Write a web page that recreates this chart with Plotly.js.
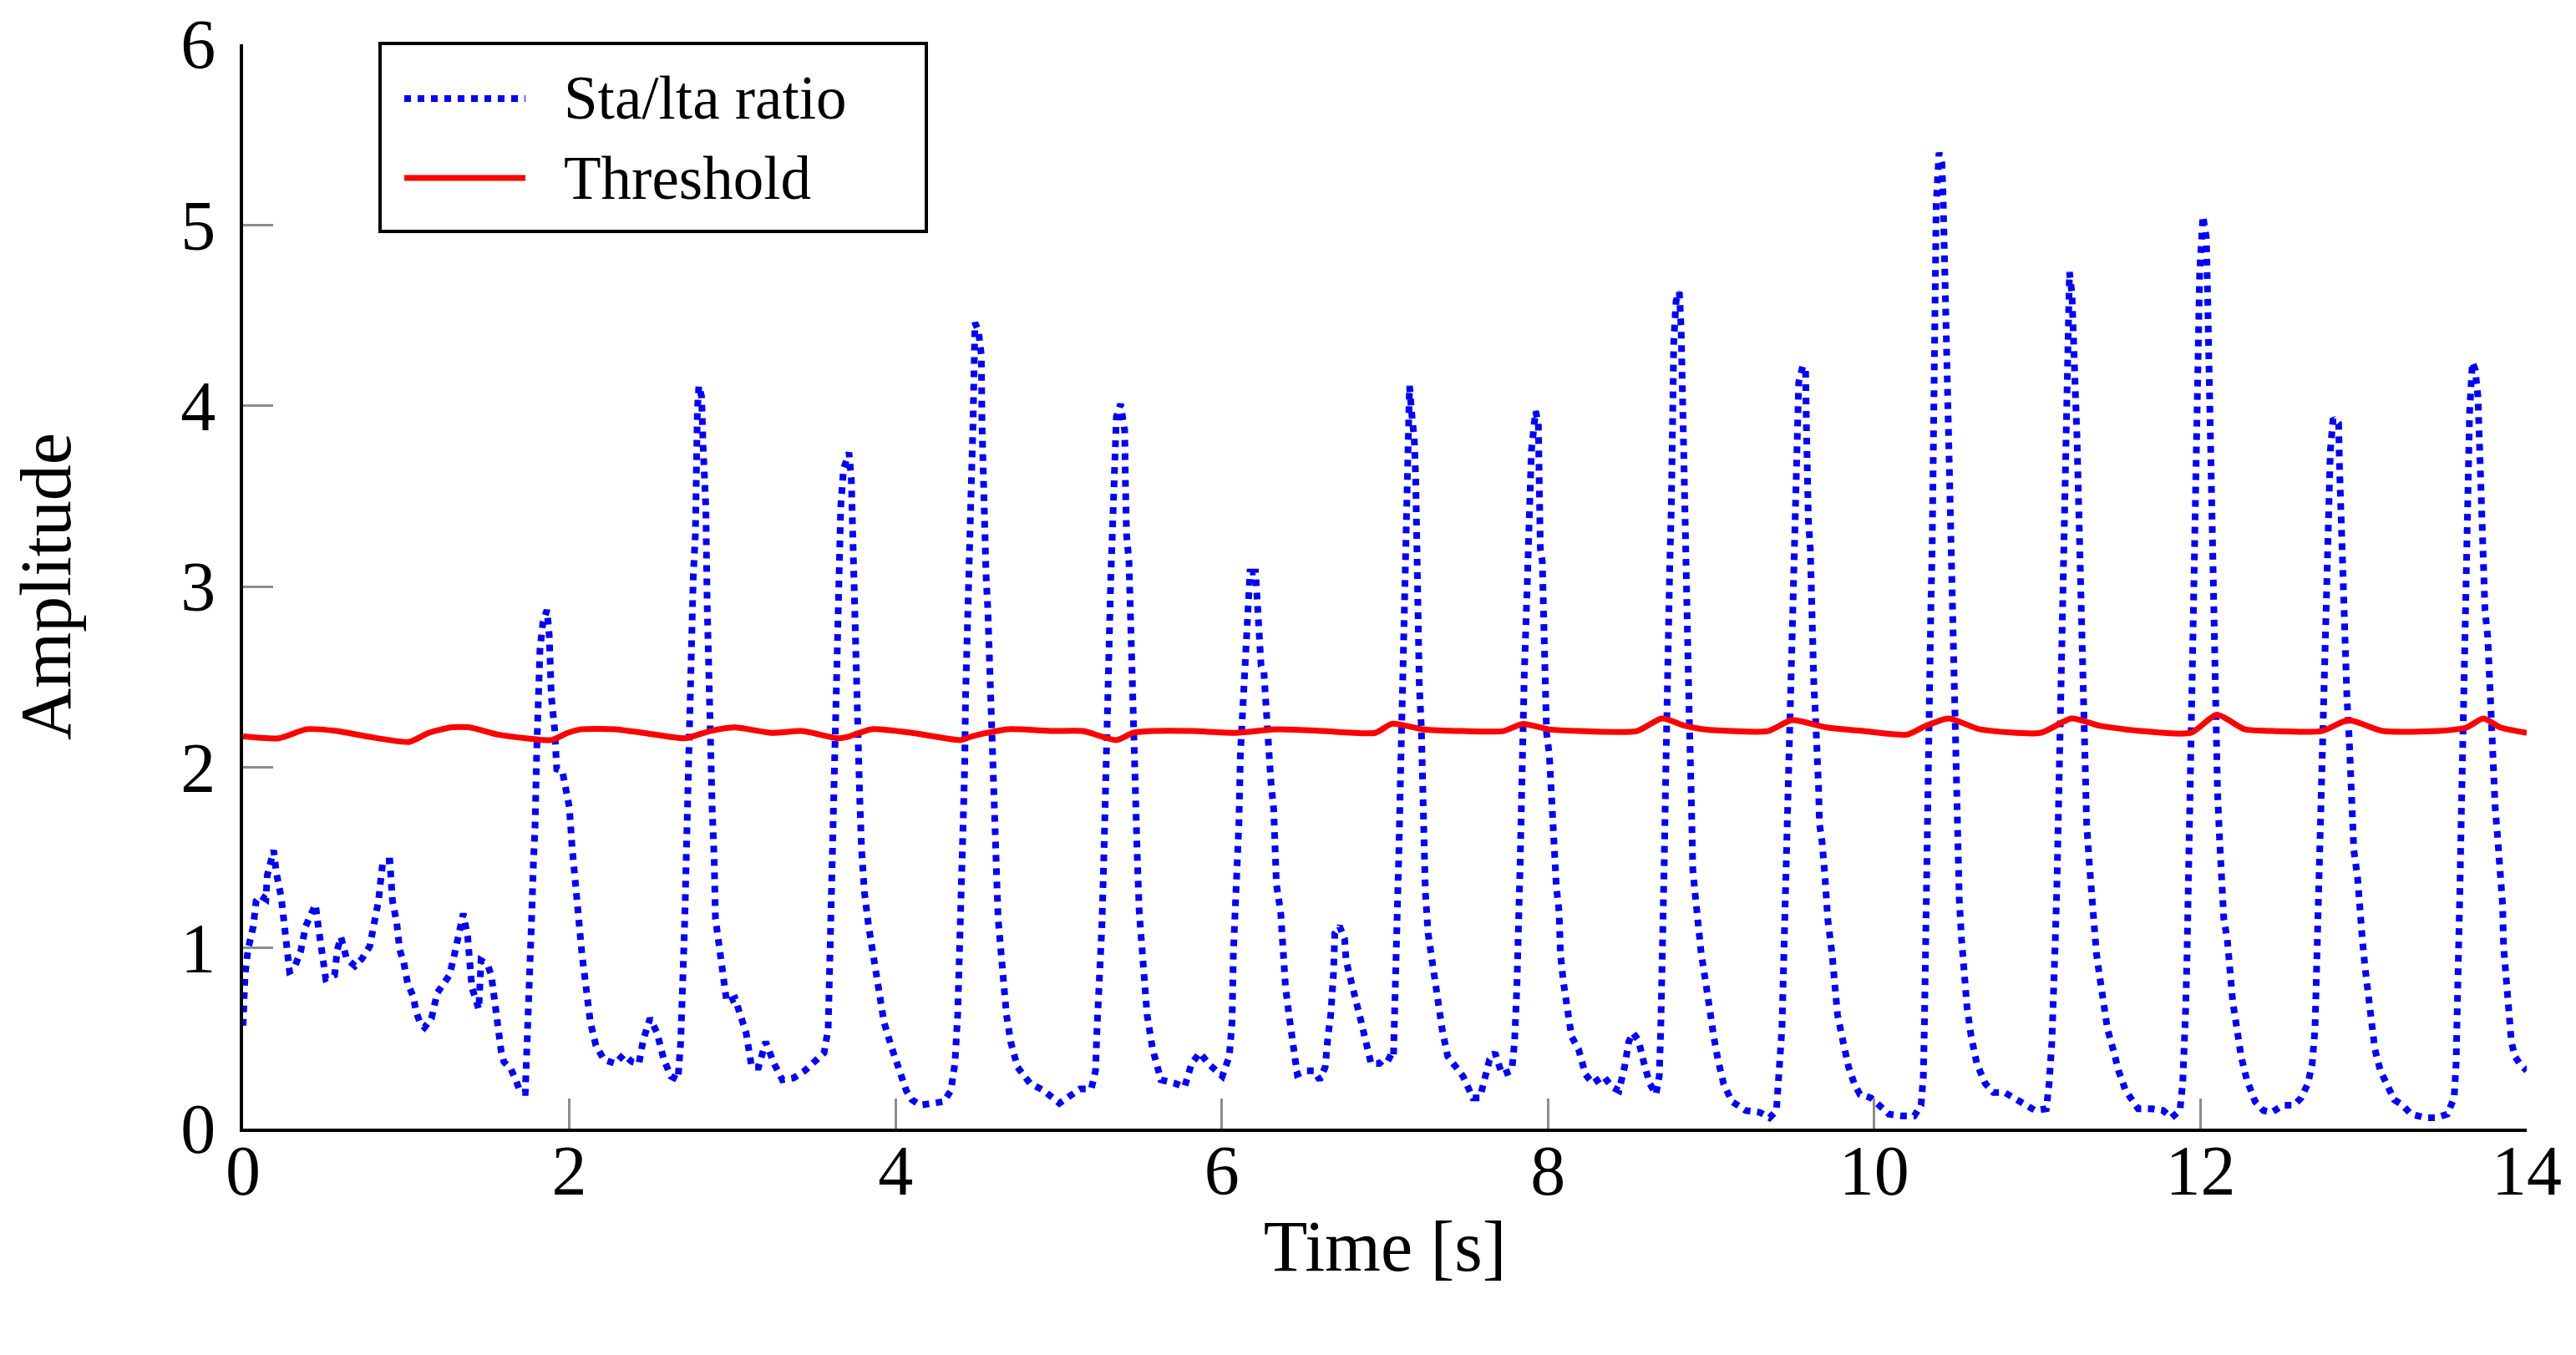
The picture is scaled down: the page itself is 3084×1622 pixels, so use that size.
<!DOCTYPE html>
<html>
<head>
<meta charset="utf-8">
<script src="https://cdn.plot.ly/plotly-3.0.1.min.js"></script>
<style>html,body{margin:0;padding:0;background:#fff;}#chart{width:3084px;height:1622px;}</style>
</head>
<body>
<div id="chart"></div>
<script>
// ---- Data ----
const staTime = [
0.00,0.012,0.03,0.063,0.08,0.105,0.14,0.148,0.188,0.203,0.234,0.25,0.268,0.285,0.31,0.353,0.384,0.413,0.444,0.464,0.486,0.507,0.561,0.578,0.60,0.635,0.686,0.729,0.777,0.805,0.83,0.857,0.90,0.916,0.942,0.96,0.985,1.01,1.044,1.06,1.087,1.112,1.155,1.19,1.232,1.266,1.30,1.317,1.35,1.377,1.394,1.403,1.428,1.445,1.459,1.497,1.522,1.539,1.556,1.582,1.599,1.642,1.676,1.70,1.73,1.74,1.75,1.76,1.77,1.78,1.79,1.80,1.81,1.82,1.838,1.863,1.877,1.88,1.89,1.91,1.923,1.957,1.975,2.0,2.017,2.034,2.06,2.077,
2.103,2.129,2.163,2.214,2.282,2.333,2.384,2.427,2.453,2.495,2.538,2.58,2.623,2.666,2.683,2.70,2.708,2.717,2.725,2.734,2.743,2.751,2.76,2.773,2.777,2.785,2.794,2.811,2.82,2.837,2.845,2.857,2.862,2.876,2.888,2.896,2.913,2.939,2.965,3.016,3.05,3.084,3.118,3.16,3.204,3.255,3.306,3.375,3.443,3.51,3.562,3.587,3.596,3.604,3.613,3.621,3.63,3.638,3.647,3.655,3.664,3.681,3.715,3.729,3.736,3.746,3.758,3.77,3.78,3.792,3.809,3.835,3.869,3.903,3.929,3.972,
4.015,4.066,4.10,4.151,4.228,4.296,4.339,4.364,4.381,4.39,4.398,4.415,4.424,4.429,4.436,4.442,4.458,4.463,4.475,4.48,4.487,4.509,4.526,4.53,4.538,4.543,4.555,4.566,4.572,4.577,4.586,4.594,4.608,4.62,4.629,4.646,4.663,4.68,4.706,4.748,4.825,4.91,5.004,5.064,5.132,5.20,5.226,5.235,5.252,5.265,5.277,5.286,5.294,5.303,5.311,5.32,5.329,5.337,5.346,5.354,5.38,5.405,5.409,5.416,5.431,5.44,5.448,5.452,5.462,5.474,5.482,5.494,5.508,5.525,5.542,5.576,5.627,5.713,5.772,5.815,5.866,5.917,
6.003,6.046,6.063,6.071,6.088,6.105,6.114,6.122,6.139,6.153,6.161,6.173,6.207,6.216,6.228,6.241,6.258,6.267,6.275,6.284,6.301,6.318,6.323,6.335,6.361,6.374,6.391,6.412,6.438,6.463,6.515,6.566,6.60,6.634,6.651,6.668,6.685,6.693,6.722,6.753,6.762,6.796,6.83,6.855,6.881,6.915,6.967,7.009,7.052,7.061,7.069,7.078,7.086,7.095,7.103,7.112,7.12,7.129,7.137,7.146,7.151,7.163,7.18,7.189,7.194,7.20,7.211,7.223,7.231,7.24,7.248,7.265,7.282,7.299,7.333,7.351,7.385,7.436,7.479,7.539,7.582,7.616,7.641,7.675,7.718,7.778,7.795,7.809,7.821,7.829,7.838,7.843,7.855,7.872,7.881,7.898,7.924,7.941,7.946,7.953,7.965,7.974,7.982,7.991,
8.008,8.017,8.025,8.034,8.051,8.068,8.076,8.093,8.119,8.144,8.187,8.23,8.273,8.341,8.392,8.435,8.469,8.495,8.52,8.554,8.589,8.623,8.662,8.682,8.691,8.699,8.708,8.713,8.721,8.725,8.734,8.742,8.747,8.756,8.759,8.764,8.771,8.785,8.805,8.816,8.822,8.827,8.833,8.845,8.853,8.862,8.867,8.876,8.883,8.888,8.905,8.922,8.939,8.965,8.987,9.016,9.042,9.076,9.127,9.213,9.298,9.358,9.40,9.417,9.434,9.443,9.451,9.46,9.468,9.477,9.485,9.494,9.503,9.511,9.52,9.528,9.537,9.562,9.579,9.584,9.588,9.596,9.608,9.613,9.622,9.63,9.639,9.653,9.659,9.664,9.681,9.698,9.715,9.741,9.758,9.775,9.809,9.843,9.877,9.912,9.98,
10.03,10.09,10.17,10.245,10.287,10.301,10.307,10.312,10.32,10.329,10.334,10.341,10.346,10.355,10.36,10.363,10.368,10.375,10.38,10.397,10.415,10.423,10.432,10.44,10.449,10.457,10.466,10.475,10.483,10.492,10.50,10.509,10.521,10.535,10.552,10.569,10.594,10.629,10.68,10.731,10.799,10.859,10.919,10.987,11.055,11.072,11.089,11.103,11.11,11.12,11.127,11.137,11.144,11.154,11.161,11.17,11.178,11.185,11.197,11.212,11.226,11.234,11.243,11.251,11.256,11.265,11.277,11.285,11.294,11.302,11.319,11.333,11.345,11.362,11.379,11.405,11.43,11.464,11.498,11.541,11.618,11.703,11.771,11.822,11.874,11.891,11.90,11.908,11.917,11.925,11.934,11.942,11.951,11.96,11.968,11.975,11.985,11.995,
12.015,12.036,12.045,12.053,12.062,12.07,12.079,12.087,12.096,12.104,12.116,12.126,12.143,12.164,12.181,12.198,12.224,12.249,12.284,12.335,12.386,12.437,12.506,12.574,12.617,12.659,12.685,12.702,12.71,12.719,12.727,12.736,12.744,12.753,12.761,12.77,12.779,12.787,12.796,12.813,12.847,12.852,12.86,12.872,12.881,12.889,12.898,12.912,12.923,12.932,12.94,12.963,12.98,12.992,13.009,13.026,13.048,13.069,13.103,13.146,13.188,13.239,13.291,13.376,13.444,13.513,13.555,13.567,13.576,13.581,13.59,13.598,13.607,13.615,13.624,13.632,13.641,13.65,13.667,13.684,13.701,13.71,13.718,13.727,13.735,13.744,13.761,13.769,13.786,13.80,13.807,13.821,13.838,13.852,13.858,13.872,13.889,13.906,13.927,13.957,14.0
];
const staRatio = [
0.57,0.85,0.99,1.12,1.26,1.29,1.27,1.40,1.54,1.42,1.28,1.14,0.99,0.87,0.88,0.98,1.12,1.19,1.24,1.10,0.97,0.83,0.85,0.99,1.06,0.94,0.90,0.94,1.01,1.14,1.26,1.48,1.48,1.26,1.14,0.99,0.92,0.80,0.73,0.65,0.58,0.56,0.61,0.75,0.80,0.85,0.98,1.06,1.19,1.06,0.92,0.78,0.71,0.66,0.93,0.91,0.85,0.71,0.57,0.43,0.37,0.33,0.26,0.20,0.20,0.40,0.62,0.91,1.19,1.47,1.67,2.08,2.37,2.65,2.80,2.87,2.73,2.44,2.39,2.21,1.99,1.98,1.91,1.78,1.56,1.37,1.15,0.97,
0.78,0.59,0.46,0.38,0.36,0.41,0.37,0.36,0.49,0.61,0.53,0.38,0.29,0.27,0.48,0.82,1.16,1.50,1.88,2.23,2.53,2.83,3.06,3.29,3.67,3.97,4.11,4.05,3.78,3.44,2.91,2.45,2.07,1.77,1.50,1.16,1.05,0.86,0.70,0.72,0.63,0.53,0.34,0.34,0.48,0.36,0.27,0.28,0.32,0.38,0.42,0.55,0.89,1.31,1.69,2.07,2.45,2.76,2.99,3.21,3.44,3.65,3.74,3.59,3.29,2.99,2.61,2.23,1.84,1.54,1.31,1.12,0.93,0.76,0.59,0.46,
0.34,0.21,0.16,0.13,0.14,0.15,0.21,0.36,0.63,0.93,1.24,1.54,2.00,2.38,2.68,2.91,3.21,3.52,3.90,4.28,4.46,4.41,4.28,3.90,3.52,3.21,3.06,2.87,2.68,2.45,2.23,1.92,1.69,1.39,1.16,0.97,0.82,0.63,0.48,0.34,0.25,0.21,0.14,0.18,0.22,0.22,0.32,0.55,0.82,1.12,1.50,1.88,2.26,2.53,2.83,3.06,3.29,3.52,3.75,3.94,4.01,3.86,3.59,3.29,3.14,2.83,2.53,2.23,2.00,1.77,1.50,1.20,1.05,0.82,0.63,0.44,0.27,0.25,0.23,0.36,0.42,0.36,
0.29,0.40,0.59,0.97,1.31,1.69,2.07,2.23,2.45,2.68,2.91,3.08,3.08,2.91,2.72,2.56,2.53,2.38,2.23,2.07,1.92,1.77,1.54,1.35,1.20,0.97,0.78,0.63,0.44,0.30,0.32,0.32,0.27,0.34,0.51,0.63,0.86,1.08,1.12,1.05,0.93,0.82,0.68,0.59,0.48,0.36,0.36,0.40,0.38,0.63,0.93,1.20,1.54,1.92,2.26,2.61,2.91,3.29,3.59,3.97,4.11,3.97,3.82,3.59,3.21,2.83,2.45,2.23,1.92,1.62,1.31,1.08,0.97,0.86,0.70,0.55,0.40,0.34,0.29,0.17,0.17,0.29,0.38,0.42,0.30,0.32,0.48,0.78,1.08,1.46,1.84,2.15,2.53,2.99,3.40,3.75,3.97,3.90,3.59,3.21,3.14,2.83,2.45,2.19,
2.07,1.88,1.69,1.50,1.34,1.20,0.97,0.82,0.67,0.51,0.44,0.30,0.25,0.29,0.23,0.21,0.34,0.48,0.53,0.49,0.36,0.25,0.19,0.29,0.55,0.82,1.16,1.50,1.92,2.23,2.53,2.83,3.14,3.44,3.75,4.05,4.36,4.58,4.63,4.43,4.13,3.82,3.59,3.21,2.83,2.53,2.23,1.92,1.69,1.43,1.27,1.08,0.97,0.82,0.67,0.51,0.38,0.25,0.15,0.10,0.09,0.06,0.10,0.29,0.55,0.86,1.16,1.46,1.77,2.07,2.34,2.61,2.91,3.21,3.52,3.82,4.13,4.22,4.20,3.90,3.59,3.37,3.21,2.99,2.68,2.45,2.30,2.07,1.88,1.69,1.58,1.39,1.16,0.97,0.78,0.63,0.48,0.34,0.25,0.19,0.17,
0.13,0.08,0.07,0.07,0.13,0.29,0.55,0.93,1.31,1.69,2.07,2.45,2.83,3.21,3.59,3.97,4.36,4.74,5.12,5.40,5.34,5.12,4.74,4.36,3.97,3.59,3.21,2.83,2.45,2.07,1.77,1.54,1.27,1.05,0.86,0.67,0.51,0.36,0.25,0.20,0.20,0.17,0.13,0.10,0.11,0.25,0.48,0.74,1.05,1.35,1.69,2.07,2.45,2.83,3.21,3.59,3.97,4.36,4.74,4.62,4.36,4.05,3.82,3.52,3.21,2.83,2.45,2.07,1.88,1.69,1.46,1.27,1.12,0.97,0.86,0.70,0.55,0.44,0.32,0.21,0.11,0.11,0.10,0.06,0.10,0.25,0.40,0.63,0.93,1.31,1.69,2.07,2.45,2.83,3.40,3.80,4.20,4.74,
5.05,4.93,4.55,4.16,3.78,3.40,3.02,2.64,2.26,1.88,1.62,1.39,1.16,1.05,0.86,0.70,0.55,0.40,0.27,0.15,0.10,0.09,0.13,0.13,0.17,0.25,0.36,0.55,0.82,1.12,1.43,1.77,2.07,2.45,2.76,3.06,3.29,3.52,3.75,3.93,3.90,3.67,3.40,3.25,2.99,2.68,2.38,2.15,1.96,1.77,1.54,1.39,1.24,1.05,0.89,0.74,0.59,0.44,0.32,0.23,0.16,0.13,0.08,0.06,0.06,0.08,0.17,0.36,0.63,0.93,1.31,1.69,2.07,2.45,2.83,3.21,3.59,3.97,4.24,4.20,4.05,3.82,3.59,3.37,3.14,2.87,2.72,2.53,2.23,1.96,1.77,1.62,1.46,1.24,1.01,0.82,0.63,0.48,0.40,0.36,0.32
];
const thrTime = [0,0.22,0.39,0.575,0.76,1.02,1.138,1.275,1.39,1.565,1.735,1.89,1.99,2.077,2.28,2.453,2.71,2.862,3.016,3.238,3.425,3.647,3.715,3.852,4.1,4.398,4.466,4.686,4.96,5.148,5.354,5.457,5.576,5.815,6.088,6.344,6.617,6.941,7.044,7.231,7.47,7.727,7.846,8.0,8.187,8.546,8.699,8.836,8.955,9.349,9.494,9.707,9.93,10.2,10.32,10.457,10.646,11.02,11.209,11.379,11.635,11.942,12.1,12.27,12.44,12.744,12.906,13.12,13.46,13.632,13.735,13.838,14.0];
const thrValue = [2.17,2.16,2.21,2.20,2.17,2.14,2.19,2.22,2.22,2.18,2.16,2.15,2.19,2.21,2.21,2.19,2.16,2.20,2.22,2.19,2.20,2.16,2.17,2.21,2.19,2.15,2.17,2.21,2.20,2.20,2.15,2.19,2.20,2.20,2.19,2.21,2.20,2.19,2.24,2.21,2.20,2.20,2.24,2.21,2.20,2.20,2.27,2.23,2.21,2.20,2.26,2.22,2.20,2.18,2.23,2.27,2.21,2.19,2.27,2.23,2.20,2.19,2.29,2.21,2.20,2.20,2.26,2.20,2.20,2.22,2.27,2.22,2.19];

const seriesNames = ['Sta/lta ratio', 'Threshold'];
const xTickVals = [0, 2, 4, 6, 8, 10, 12, 14];
const yTickVals = [0, 1, 2, 3, 4, 5, 6];
const xTitle = 'Time [s]';
const yTitle = 'Amplitude';

// ---- Drawing ----
const FONT = '"Liberation Serif", "DejaVu Serif", serif';
const L = 291, R = 59, T = 53, B = 271;
const W = 3084, H = 1622;
const pw = W - L - R, ph = H - T - B;
const px = v => (v - L) / pw;          // pixel -> paper x
const py = v => (H - B - v) / ph;      // pixel -> paper y

const traces = [
  { x: staTime, y: staRatio, mode: 'lines', name: seriesNames[0],
    line: { color: '#0000ff', width: 8, dash: '8px,8px' }, showlegend: false },
  { x: thrTime, y: thrValue, mode: 'lines', name: seriesNames[1],
    line: { color: '#ff0000', width: 7, shape: 'spline', smoothing: 0.6 }, showlegend: false }
];

// legend drawn as a framed box in paper coordinates
const legBox = { x0: px(455), x1: px(1109), y0: py(277), y1: py(52) };
const legRows = [py(118), py(213)];
const shapes = [
  { type: 'rect', xref: 'paper', yref: 'paper', x0: legBox.x0, x1: legBox.x1, y0: legBox.y0, y1: legBox.y1,
    line: { color: '#000', width: 4 }, fillcolor: '#ffffff', layer: 'above' },
  { type: 'line', xref: 'paper', yref: 'paper', x0: px(484), x1: px(629), y0: legRows[0], y1: legRows[0],
    line: { color: '#0000ff', width: 8, dash: '8px,8px' }, layer: 'above' },
  { type: 'line', xref: 'paper', yref: 'paper', x0: px(484), x1: px(629), y0: legRows[1], y1: legRows[1],
    line: { color: '#ff0000', width: 7 }, layer: 'above' }
];
const annotations = seriesNames.map((n, i) => ({
  text: n, xref: 'paper', yref: 'paper', x: px(673), y: legRows[i], xanchor: 'left', yanchor: 'middle',
  showarrow: false, font: { family: FONT, size: 73, color: '#000' }
}));

const layout = {
  width: W, height: H,
  margin: { l: L, r: R, t: T, b: B, pad: 0 },
  paper_bgcolor: '#fff', plot_bgcolor: '#fff',
  showlegend: false,
  font: { family: FONT, color: '#000' },
  xaxis: {
    range: [0, 14], tickvals: xTickVals, ticktext: xTickVals.map(String),
    ticks: 'inside', ticklen: 36, tickwidth: 3, tickcolor: '#8c8c8c',
    showline: true, linecolor: '#000', linewidth: 4, mirror: false,
    showgrid: false, zeroline: false, automargin: false,
    tickfont: { family: FONT, size: 84, color: '#000' }, ticklabelstandoff: -26,
    title: { text: xTitle, font: { family: FONT, size: 86, color: '#000' }, standoff: 15 }
  },
  yaxis: {
    range: [0, 6], tickvals: yTickVals, ticktext: yTickVals.map(String),
    ticks: 'inside', ticklen: 36, tickwidth: 3, tickcolor: '#8c8c8c',
    showline: true, linecolor: '#000', linewidth: 4, mirror: false,
    showgrid: false, zeroline: false, automargin: false,
    tickfont: { family: FONT, size: 84, color: '#000' }, ticklabelstandoff: 12,
    title: { text: yTitle, font: { family: FONT, size: 86, color: '#000' }, standoff: 104 }
  },
  shapes: shapes,
  annotations: annotations
};

Plotly.newPlot('chart', traces, layout, { staticPlot: true, displayModeBar: false });
</script>
</body>
</html>
